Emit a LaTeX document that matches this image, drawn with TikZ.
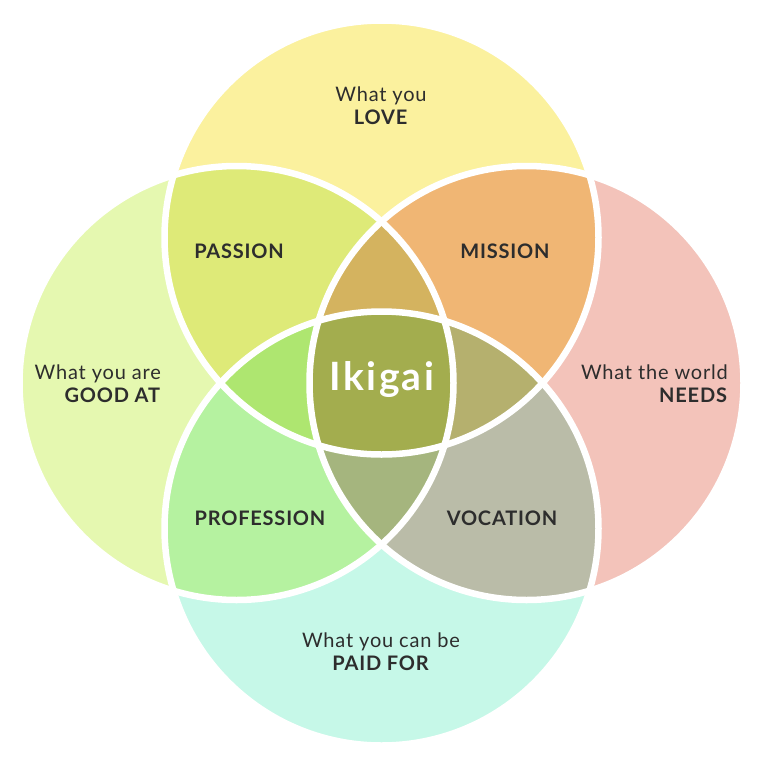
\documentclass[tikz,border=0pt]{standalone}
\usepackage{fontspec}
\setmainfont{Lato}
\newfontfamily\labfont[LetterSpace=4]{Lato}
\newfontfamily\ikifont[LetterSpace=6]{Lato}
\definecolor{cT}{RGB}{251,241,158}
\definecolor{cL}{RGB}{229,248,176}
\definecolor{cR}{RGB}{243,195,186}
\definecolor{cB}{RGB}{198,248,232}
\definecolor{cTL}{RGB}{222,234,120}
\definecolor{cTR}{RGB}{240,182,116}
\definecolor{cBL}{RGB}{181,242,160}
\definecolor{cBR}{RGB}{186,188,168}
\definecolor{cTLR}{RGB}{212,179,95}
\definecolor{cTLB}{RGB}{174,230,112}
\definecolor{cTRB}{RGB}{181,176,110}
\definecolor{cBLR}{RGB}{165,181,126}
\definecolor{cAll}{RGB}{163,173,78}
\definecolor{txt}{RGB}{45,45,45}
\begin{document}
\begin{tikzpicture}[x=1pt,y=-1pt,
  outline/.style={draw=white,line width=6.5pt},
  maintxt/.style={text=txt,align=center,inner sep=0pt,font=\labfont\fontsize{20}{23}\selectfont},
  sidetxt/.style={text=txt,align=right,inner sep=0pt,font=\labfont\fontsize{20}{23}\selectfont},
  regtxt/.style={text=txt,inner sep=0pt,font=\labfont\bfseries\fontsize{20}{23}\selectfont}]
\useasboundingbox (0,0) rectangle (764,766);
\def\rr{217}
\coordinate (cT) at (381.5,237.5);
\coordinate (cB) at (381.5,528.5);
\coordinate (cL) at (236.5,383);
\coordinate (cR) at (526.5,383);
\def\T{(cT) circle (\rr)}
\def\B{(cB) circle (\rr)}
\def\L{(cL) circle (\rr)}
\def\R{(cR) circle (\rr)}
% single circles
\fill[cT] \T; \fill[cL] \L; \fill[cR] \R; \fill[cB] \B;
% pairs
\begin{scope}\clip \T; \fill[cTL] \L; \fill[cTR] \R; \end{scope}
\begin{scope}\clip \B; \fill[cBL] \L; \fill[cBR] \R; \end{scope}
% triples
\begin{scope}\clip \T; \clip \L; \fill[cTLR] \R; \fill[cTLB] \B; \end{scope}
\begin{scope}\clip \T; \clip \R; \fill[cTRB] \B; \end{scope}
\begin{scope}\clip \B; \clip \L; \fill[cBLR] \R; \end{scope}
% all four
\begin{scope}\clip \T; \clip \B; \clip \L; \fill[cAll] \R; \end{scope}
% outlines
\draw[outline] \T; \draw[outline] \L; \draw[outline] \R; \draw[outline] \B;
% labels
\node[maintxt] (love) at (381,106) {What you\\\textbf{LOVE}};
\node[sidetxt,anchor=east] (good) at (161,384) {What you are\\\textbf{GOOD AT}};
\node[sidetxt,anchor=east] (needs) at (728,384) {What the world\\\textbf{NEEDS}};
\node[maintxt] (paid) at (381,652) {What you can be\\\textbf{PAID FOR}};
\node[regtxt] (passion) at (239,251) {PASSION};
\node[regtxt] (mission) at (505,251) {MISSION};
\node[regtxt] (profession) at (260,518) {PROFESSION};
\node[regtxt] (vocation) at (502,518) {VOCATION};
\node[text=white,inner sep=0pt,font=\ikifont\bfseries\fontsize{39}{42}\selectfont] (ikigai) at (382,380) {Ikigai};
\end{tikzpicture}
\end{document}
